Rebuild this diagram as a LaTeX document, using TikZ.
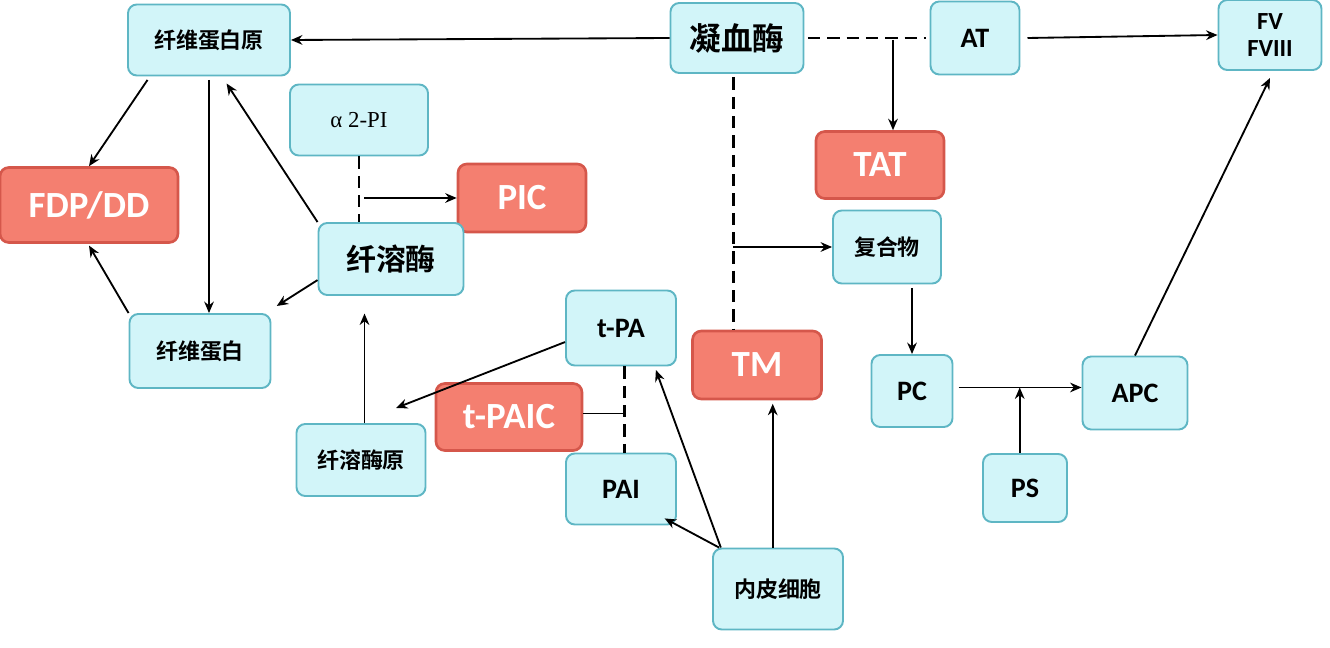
\documentclass[tikz,border=0pt]{standalone}
\usepackage{fontspec}
\setmainfont{Carlito}
\newfontfamily\cjk{Noto Sans CJK SC}[BoldFont={Noto Sans CJK SC Bold}]
\newfontfamily\serifgr{Liberation Serif}
\usetikzlibrary{arrows.meta}
\definecolor{boxfill}{HTML}{D2F5F9}
\definecolor{boxline}{HTML}{5EB6C4}
\definecolor{redfill}{HTML}{F47F70}
\definecolor{redline}{HTML}{D5574B}
\begin{document}
\begin{tikzpicture}[x=0.02cm,y=-0.02cm,
	bluebox/.style={draw=boxline,fill=boxfill,line width=1.1pt,rounded corners=5pt,inner sep=0pt,font=\cjk\bfseries},
	redbox/.style={draw=redline,fill=redfill,line width=1.5pt,rounded corners=5pt,inner sep=0pt,text=white,font=\bfseries\fontsize{21}{21}\selectfont},
	arr/.style={-{Stealth[length=6.5pt,width=5.5pt]},line width=1.05pt},
	dsh/.style={dash pattern=on 7pt off 4pt,line width=1.6pt}]
	\useasboundingbox (0,0) rectangle (1330,648);
	% coagulation side
	\node[bluebox,minimum width=162*0.02cm,minimum height=71*0.02cm,font=\cjk\bfseries\fontsize{12.5}{12.5}\selectfont] (fbgn) at (209,40) {纤维蛋白原};
	\node[bluebox,minimum width=133*0.02cm,minimum height=70*0.02cm,font=\cjk\bfseries\fontsize{18}{18}\selectfont] (ning) at (737,38) {凝血酶};
	\node[bluebox,minimum width=89*0.02cm,minimum height=73*0.02cm,font=\bfseries\fontsize{16}{16}\selectfont] (at) at (975,38) {AT};
	\node[bluebox,minimum width=103*0.02cm,minimum height=70*0.02cm,font=\bfseries\fontsize{14}{15}\selectfont,align=center] (fv) at (1270,35) {FV\\FVIII};
	\node[bluebox,minimum width=138*0.02cm,minimum height=71*0.02cm,font=\serifgr\fontsize{13}{13}\selectfont] (a2pi) at (359,120) {α 2-PI};
	\node[redbox,minimum width=178*0.02cm,minimum height=75*0.02cm] (fdp) at (89,205) {FDP/DD};
	\node[redbox,minimum width=128*0.02cm,minimum height=68*0.02cm] (pic) at (522,198) {PIC};
	\node[bluebox,minimum width=145*0.02cm,minimum height=72*0.02cm,font=\cjk\bfseries\fontsize{17}{17}\selectfont] (pls) at (391,259) {纤溶酶};
	\node[redbox,minimum width=128*0.02cm,minimum height=67*0.02cm] (tat) at (880,165) {TAT};
	\node[bluebox,minimum width=108*0.02cm,minimum height=73*0.02cm,font=\cjk\bfseries\fontsize{12.5}{12.5}\selectfont] (cpx) at (887,247) {复合物};
	\node[bluebox,minimum width=141*0.02cm,minimum height=74*0.02cm,font=\cjk\bfseries\fontsize{12.5}{12.5}\selectfont] (fib) at (200,351) {纤维蛋白};
	\node[bluebox,minimum width=110*0.02cm,minimum height=75*0.02cm,font=\bfseries\fontsize{16}{16}\selectfont] (tpa) at (621,328) {t-PA};
	\node[redbox,minimum width=129*0.02cm,minimum height=68*0.02cm] (tm) at (757,365) {TM};
	\node[bluebox,minimum width=81*0.02cm,minimum height=72*0.02cm,font=\bfseries\fontsize{16}{16}\selectfont] (pc) at (912,391) {PC};
	\node[bluebox,minimum width=105*0.02cm,minimum height=73*0.02cm,font=\bfseries\fontsize{16}{16}\selectfont] (apc) at (1135,393) {APC};
	\node[redbox,minimum width=146*0.02cm,minimum height=67*0.02cm] (tpaic) at (509,417) {t-PAIC};
	\node[bluebox,minimum width=129*0.02cm,minimum height=72*0.02cm,font=\cjk\bfseries\fontsize{12.5}{12.5}\selectfont] (plg) at (361,460) {纤溶酶原};
	\node[bluebox,minimum width=110*0.02cm,minimum height=71*0.02cm,font=\bfseries\fontsize{16}{16}\selectfont] (pai) at (621,489) {PAI};
	\node[bluebox,minimum width=84*0.02cm,minimum height=68*0.02cm,font=\bfseries\fontsize{16}{16}\selectfont] (ps) at (1025,488) {PS};
	\node[bluebox,minimum width=130*0.02cm,minimum height=81*0.02cm,font=\cjk\bfseries\fontsize{12.5}{12.5}\selectfont] (endo) at (778,589) {内皮细胞};
	\coordinate (j1) at (893,40);
	\coordinate (tgt) at (396,408);
	% arrows
	\draw[arr] (ning.west) -- (fbgn.east);
	\draw[dsh] ([xshift=2pt]ning.east) -- ([xshift=-2pt]at.west);
	\draw[arr] (j1) -- (tat.north -| j1);
	\draw[arr] ([xshift=4pt]at.east) -- (fv.west);
	\draw[arr] ([xshift=-35pt,yshift=-2pt]fbgn.south) -- (fdp.north);
	\draw[arr] ([yshift=-2pt]fbgn.south) -- (fbgn.south |- fib.north);
	\draw[arr] (pls.north west) -- ([xshift=10pt,yshift=-4pt]fbgn.south);
	\draw[arr] ([yshift=-12pt]pls.west) -- ([xshift=3pt,yshift=4pt]fib.north east);
	\draw[arr] (fib.north west) -- ([yshift=-1pt]fdp.south);
	\draw[dsh] (a2pi.south) -- (a2pi.south |- pls.north);
	\draw[arr] ([xshift=3pt]a2pi.south |- pic.west) -- (pic.west);
	\draw[arr] ([xshift=2pt]plg.north) -- ([xshift=2pt,yshift=-10pt]plg.north |- pls.south);
	\draw[arr] ([yshift=-8pt]tpa.west) -- (tgt);
	\draw[dsh] ([xshift=2pt]tpa.south) -- ([xshift=2pt]tpa.south |- pai.north);
	\draw[line width=1.05pt] ([yshift=2pt]tpaic.east) -- ([xshift=2pt,yshift=2pt]tpa.south |- tpaic.east);
	\draw[arr] ([xshift=5pt]endo.north west) -- ([xshift=-12pt,yshift=-2pt]tpa.south east);
	\draw[arr] ([xshift=4pt]endo.north west) -- ([xshift=-7pt,yshift=4pt]pai.south east);
	\draw[arr] ([xshift=-3pt]endo.north) -- ([xshift=-3pt,yshift=-2pt]endo.north |- tm.south);
	\draw[dsh] ([xshift=-2pt,yshift=-2pt]ning.south) -- ([xshift=-2pt]ning.south |- tm.north);
	\draw[arr] ([xshift=-2pt]ning.south |- cpx.west) -- (cpx.west);
	\draw[arr] ([yshift=-2pt]pc.north |- cpx.south) -- (pc.north);
	\draw[arr] ([xshift=3pt,yshift=2pt]pc.east) -- ([yshift=2pt]pc.east -| apc.west);
	\draw[arr] ([xshift=-3pt]ps.north) -- ([xshift=-3pt,yshift=2pt]ps.north |- pc.east);
	\draw[arr] (apc.north) -- ([yshift=-4pt]fv.south);
\end{tikzpicture}
\end{document}
